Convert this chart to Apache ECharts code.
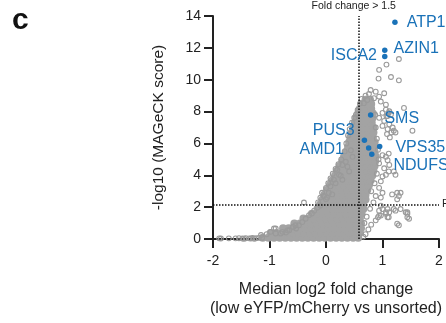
<!DOCTYPE html>
<html><head><meta charset="utf-8">
<script src="https://cdn.jsdelivr.net/npm/echarts@6/dist/echarts.min.js"></script>
<style>html,body{margin:0;padding:0;background:#fff}#c{width:446px;height:323px}</style>
</head><body><div id="c"></div>
<script>
// ---- data ----
const xTicks = [-2, -1, 0, 1, 2];
const yTicks = [0, 2, 4, 6, 8, 10, 12, 14];
const foldChangeLine = 0.585;   // log2(1.5)
const scoreLine = 2.17;

// dense core of the cloud: [y, [x values]]
const coreRows = [
 [0.08, [-1.12,-1.02,-0.92,-0.82,-0.72,-0.62,-0.52,-0.42,-0.32,-0.22,-0.12,-0.02,0.08,0.18,0.28,0.38,0.48,0.57]],
 [0.38, [-0.98,-0.88,-0.78,-0.68,-0.58,-0.48,-0.38,-0.28,-0.18,-0.08,0.02,0.12,0.22,0.32,0.42,0.52,0.6]],
 [0.68, [-0.76,-0.66,-0.56,-0.46,-0.36,-0.26,-0.16,-0.06,0.04,0.14,0.24,0.34,0.44,0.54,0.62]],
 [0.98, [-0.56,-0.46,-0.36,-0.26,-0.16,-0.06,0.04,0.14,0.24,0.34,0.44,0.54,0.62]],
 [1.28, [-0.4,-0.3,-0.2,-0.1,0.0,0.1,0.2,0.3,0.4,0.5,0.6]],
 [1.58, [-0.25,-0.15,-0.05,0.05,0.15,0.25,0.35,0.45,0.55,0.63]],
 [1.88, [-0.15,-0.07,0.03,0.13,0.23,0.33,0.43,0.53,0.61,0.66]],
 [2.18, [-0.1,-0.03,0.07,0.17,0.27,0.37,0.47,0.57,0.66]],
 [2.48, [-0.06,0.04,0.14,0.24,0.34,0.44,0.54,0.64,0.7]],
 [2.78, [-0.03,0.04,0.1,0.2,0.3,0.4,0.5,0.6,0.7]],
 [3.08, [0.02,0.1,0.18,0.28,0.38,0.48,0.58,0.66,0.73]],
 [3.38, [0.07,0.14,0.22,0.32,0.42,0.52,0.62,0.7,0.76]],
 [3.68, [0.11,0.18,0.26,0.36,0.46,0.56,0.66,0.74,0.79]],
 [3.98, [0.16,0.22,0.3,0.4,0.5,0.6,0.7,0.77,0.82]],
 [4.28, [0.2,0.26,0.33,0.43,0.53,0.63,0.73,0.8,0.84]],
 [4.58, [0.24,0.31,0.41,0.51,0.61,0.71,0.81,0.86]],
 [4.88, [0.29,0.33,0.43,0.53,0.63,0.73,0.83,0.87]],
 [5.18, [0.32,0.4,0.5,0.6,0.7,0.8,0.88]],
 [5.48, [0.36,0.45,0.55,0.65,0.75,0.86]],
 [5.78, [0.39,0.49,0.59,0.69,0.79,0.86]],
 [6.08, [0.41,0.51,0.61,0.71,0.81,0.86]],
 [6.38, [0.43,0.53,0.63,0.73,0.83]],
 [6.68, [0.46,0.56,0.66,0.76,0.84]],
 [6.98, [0.48,0.58,0.68,0.78,0.84]],
 [7.28, [0.51,0.61,0.71,0.81]],
 [7.58, [0.54,0.64,0.74,0.82]],
 [7.88, [0.57,0.67,0.77,0.83]],
 [8.18, [0.6,0.7,0.8]],
 [8.48, [0.64,0.73,0.8]],
 [8.75, [0.7,0.78]]
];

// individually visible genes (hollow circles)
const otherGenes = [
 [1.29,11.3],[1.07,10.95],[0.94,10.62],[1.15,10.17],[1.29,9.96],[0.93,10.07],
 [0.79,9.35],[0.88,9.25],[1.03,9.15],[0.94,8.94],[0.85,8.84],[0.73,8.73],[0.67,8.53],[0.97,8.63],[1.06,8.43],[1.12,8.02],[1.09,7.72],[1.38,8.23],[1.53,6.8],
 [1.06,8.12],[1.11,7.92],[1.16,6.69],[1.2,6.8],[1.08,6.59],[1.13,6.38],
 [1.0,7.92],[1.07,7.72],[1.15,7.81],[0.94,7.61],[1.03,7.41],[1.12,7.2],[1.18,7.0],[1.23,6.69],[1.09,6.9],[1.0,7.1],
 [1.06,5.16],[1.11,5.36],[1.0,3.93],[1.06,4.03],[1.11,4.24],[0.97,3.62],
 [1.0,5.26],[1.09,4.95],[1.12,4.65],[1.03,4.44],[0.94,4.75],[1.2,4.24],[1.23,4.03],
 [0.94,3.21],[1.0,2.9],[0.88,2.7],[0.97,2.6],[1.26,2.9],[1.29,2.7],[1.17,2.8],[1.32,2.9],[1.26,2.5],
 [0.97,2.09],[1.09,1.88],[1.2,1.88],[1.06,1.58],[1.11,1.37],[1.32,1.88],[1.44,1.58],[1.47,1.27],[1.29,0.86],[1.44,1.68],[1.44,1.37],
 [1.06,1.68],[1.09,1.37],[0.94,1.78],[0.97,1.47],[0.88,1.17],[0.92,1.37],[1.0,1.88],[1.12,1.68],[1.23,1.78],[1.41,1.68],[1.26,0.96],[0.94,1.47],
 [0.7,0.3],[0.75,0.6],[0.68,1.0],[0.72,1.4],[0.8,0.9],[0.66,0.15],[0.78,1.9],[0.84,2.3],[0.8,3.0],[0.86,3.5],[0.9,4.1],[0.93,5.0],[0.92,5.6],[0.9,6.3],[0.88,7.0],[0.87,7.8],
 [-0.39,2.29],[0.0,2.5],[0.02,2.6],[0.11,2.8],[0.23,4.03],[0.29,3.72],[0.38,4.54],[0.41,4.24],[0.47,5.16],
 [-0.58,0.76],[-0.65,0.55],[-0.71,0.41],[0.26,3.97],[0.44,5.57],[0.29,4.65],[0.35,4.85],[0.5,7.61],[0.53,7.81],
 [-0.89,0.66],[-0.77,0.45],[-0.68,0.55],[-0.54,0.86],[-0.42,1.06],[-0.36,1.27],[-0.21,1.78],[-0.15,1.98],
 [-0.04,2.7],[0.08,3.31],[0.14,3.72],[0.2,4.34],[0.52,7.65],
 [-0.14,2.3],[-0.1,2.6],[-0.07,2.9],[0.0,3.2],[0.04,3.5],[0.08,3.8],[0.12,4.1],[0.17,4.4],[0.22,4.7],[0.27,5.0],
 [-0.98,0.45],[-0.92,0.66],[-0.89,0.35],[-0.8,0.35],[-0.59,0.76],[-0.53,0.66],[-0.48,0.86],
 [0.33,5.5],[0.36,6.0],[0.39,6.5],[0.42,6.9],[0.46,7.3],[0.56,8.1],[0.6,8.5],[0.63,8.8],[0.7,9.0],[0.76,9.1],
 [-0.3,1.5],[-0.1,2.1],[0.05,2.9],[0.17,3.5],[-0.25,1.6],[-1.05,0.3],[-1.15,0.25],
 [-1.89,0.04],[-1.86,0.03],[-1.72,0.04],[-1.6,0.04],[-1.54,0.05],[-1.48,0.03],[-1.42,0.05],[-1.36,0.04],[-1.3,0.06],
 [-1.24,0.05],[-1.19,0.07],[-1.13,0.08],[-1.45,0.02],[-1.33,0.03],[-1.27,0.02]
];

// highlighted genes
const hitNames = ['ATP1','AZIN1','ISCA2','SMS','PUS3','AMD1','VPS35','NDUFS'];
const hitX = [1.22, 1.04, 1.04, 0.79, 0.68, 0.755, 0.95, 0.81];
const hitY = [13.6, 11.85, 11.46, 7.78, 6.2, 5.71, 5.81, 5.32];

// ---- chart ----
const FONT = "'Liberation Sans', Arial, Helvetica, sans-serif";
const BLUE = '#1a72b8';
const coreData = [];
coreRows.forEach(r => r[1].forEach(x => coreData.push([x, r[0]])));

const labelLayout = {
 ATP1:  {position:'right', distance:9, offset:[0,0]},
 AZIN1: {position:'right', distance:6, offset:[0,-2]},
 ISCA2: {position:'left',  distance:5, offset:[0,-1]},
 SMS:   {position:'right', distance:11, offset:[0,4]},
 PUS3:  {position:'left',  distance:7, offset:[0,-10]},
 AMD1:  {position:'left',  distance:22, offset:[0,2]},
 VPS35: {position:'right', distance:13, offset:[0,1]},
 NDUFS: {position:'right', distance:19, offset:[0,11]}
};
const hitData = hitNames.map((n, i) => ({
 name: n, value: [hitX[i], hitY[i]],
 label: Object.assign({show:true, formatter:n}, labelLayout[n])
}));

const chart = echarts.init(document.getElementById('c'), null, {renderer:'canvas'});
chart.setOption({
 animation:false,
 backgroundColor:'#fff',
 textStyle:{fontFamily:FONT},
 grid:{left:213, right:7, top:16, bottom:79},
 graphic:[{type:'text', left:12, top:6, style:{text:'c', font:'bold 30px '+FONT, fill:'#111'}}],
 xAxis:{
  type:'value', min:xTicks[0], max:xTicks[xTicks.length-1], interval:1,
  splitLine:{show:false},
  axisLine:{onZero:false, lineStyle:{color:'#222', width:2}},
  axisTick:{length:9, lineStyle:{color:'#222', width:2}},
  axisLabel:{fontSize:14, color:'#222', margin:15, fontFamily:FONT},
  name:'Median log2 fold change\n(low eYFP/mCherry vs unsorted)',
  nameLocation:'middle', nameGap:41,
  nameTextStyle:{fontSize:16, lineHeight:19, color:'#222', fontFamily:FONT}
 },
 yAxis:{
  type:'value', min:yTicks[0], max:yTicks[yTicks.length-1], interval:2,
  splitLine:{show:false},
  axisLine:{show:true, onZero:false, lineStyle:{color:'#222', width:2}},
  axisTick:{show:true, length:9, lineStyle:{color:'#222', width:2}},
  axisLabel:{fontSize:14, color:'#222', margin:12, fontFamily:FONT},
  name:'-log10 (MAGeCK score)', nameLocation:'middle', nameGap:46,
  nameTextStyle:{fontSize:15.5, color:'#222', fontFamily:FONT}
 },
 series:[
  {type:'scatter', data:coreData, symbol:'circle', symbolSize:8, z:2, silent:true,
   itemStyle:{color:'#a3a3a3', opacity:1}},
  {type:'scatter', data:otherGenes, symbol:'circle', symbolSize:4.8, z:3, silent:true,
   itemStyle:{color:'rgba(0,0,0,0)', borderColor:'#9a9a9a', borderWidth:1.1, opacity:1}},
  {type:'scatter', data:[], z:4, silent:true,
   markLine:{silent:true, symbol:['none','none'], animation:false,
    lineStyle:{color:'#111', width:1.5, type:[1.5,1.5]},
    data:[
     {xAxis:foldChangeLine, label:{show:true, position:'end', formatter:'Fold change > 1.5', fontSize:10.5, color:'#222', distance:4, offset:[-5,0]}},
     {yAxis:scoreLine, label:{show:true, position:'end', formatter:'F', fontSize:11, color:'#222', distance:3}}
    ]}},
  {type:'scatter', data:hitData, symbol:'circle', symbolSize:5.5, z:5,
   itemStyle:{color:BLUE, opacity:1},
   label:{show:true, fontSize:16, color:BLUE, fontFamily:FONT}}
 ]
});
</script></body></html>
